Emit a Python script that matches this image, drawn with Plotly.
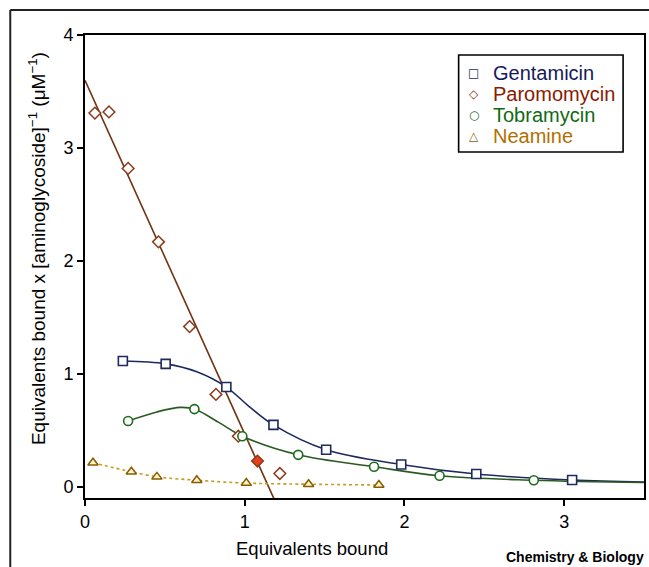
import numpy as np
import plotly.graph_objects as go

# ---- data ----
gent_x = [0.237, 0.505, 0.885, 1.18, 1.51, 1.98, 2.45, 3.05]
gent_y = [1.115, 1.09, 0.885, 0.55, 0.33, 0.20, 0.115, 0.062]
gent_curve_x = [0.237, 0.505, 0.70, 0.885, 1.03, 1.18, 1.51, 1.98, 2.45, 3.05, 3.5]
gent_curve_y = [1.115, 1.09, 1.02, 0.885, 0.71, 0.55, 0.33, 0.20, 0.115, 0.062, 0.045]

paro_x = [0.062, 0.15, 0.27, 0.46, 0.655, 0.82, 0.96, 1.08, 1.22]
paro_y = [3.31, 3.32, 2.82, 2.17, 1.42, 0.82, 0.45, 0.23, 0.12]
paro_fit_intercept = 3.60
paro_fit_slope = -3.13
paro_fit_xrange = [0.0, 1.25]

tobra_x = [0.27, 0.685, 0.985, 1.335, 1.81, 2.22, 2.81]
tobra_y = [0.585, 0.69, 0.45, 0.285, 0.18, 0.10, 0.06]
tobra_curve_x = [0.27, 0.45, 0.60, 0.685, 0.84, 0.985, 1.335, 1.81, 2.22, 2.81, 3.5]
tobra_curve_y = [0.585, 0.665, 0.705, 0.69, 0.57, 0.45, 0.285, 0.18, 0.10, 0.06, 0.04]

neam_x = [0.05, 0.29, 0.45, 0.70, 1.01, 1.40, 1.84]
neam_y = [0.215, 0.135, 0.09, 0.06, 0.035, 0.025, 0.018]

series_names = ["Gentamicin", "Paromomycin", "Tobramycin", "Neamine"]

x_ticks = [0, 1, 2, 3]
y_ticks = [0, 1, 2, 3, 4]

FONT = "Liberation Sans, Arial, sans-serif"

EDGE = {"Gentamicin": "#1f2a5c", "Paromomycin": "#8b3a1a",
        "Tobramycin": "#1e6b1e", "Neamine": "#8a5a00"}
TEXTC = {"Gentamicin": "#151b5a", "Paromomycin": "#8a1a00",
         "Tobramycin": "#0f6a12", "Neamine": "#b07000"}
GLYPH = {"Gentamicin": "\u25a1", "Paromomycin": "\u25c7",
         "Tobramycin": "\u25cb", "Neamine": "\u25b3"}

fig = go.Figure()

# fitted / smoothed lines
fx = np.linspace(paro_fit_xrange[0], paro_fit_xrange[1], 50)
fig.add_trace(go.Scatter(x=fx, y=paro_fit_intercept + paro_fit_slope * fx, mode="lines",
                         line=dict(color="#6e3414", width=1.6), showlegend=False, hoverinfo="skip"))
fig.add_trace(go.Scatter(x=gent_curve_x, y=gent_curve_y, mode="lines",
                         line=dict(color="#1f2a5c", width=1.6, shape="spline", smoothing=1.0),
                         showlegend=False, hoverinfo="skip"))
fig.add_trace(go.Scatter(x=tobra_curve_x, y=tobra_curve_y, mode="lines",
                         line=dict(color="#2a5a22", width=1.6, shape="spline", smoothing=1.0),
                         showlegend=False, hoverinfo="skip"))
fig.add_trace(go.Scatter(x=neam_x, y=neam_y, mode="lines",
                         line=dict(color="#c89a20", width=1.6, dash="dot", shape="spline", smoothing=0.8),
                         showlegend=False, hoverinfo="skip"))

# markers
fig.add_trace(go.Scatter(x=gent_x, y=gent_y, mode="markers", name="Gentamicin", showlegend=False,
                         marker=dict(symbol="square", size=9, color="white",
                                     line=dict(color=EDGE["Gentamicin"], width=1.6))))
paro_fill = ["white"] * len(paro_x)
paro_fill[7] = "#e8401a"
fig.add_trace(go.Scatter(x=paro_x, y=paro_y, mode="markers", name="Paromomycin", showlegend=False,
                         marker=dict(symbol="diamond", size=9, color=paro_fill,
                                     line=dict(color=EDGE["Paromomycin"], width=1.5))))
fig.add_trace(go.Scatter(x=tobra_x, y=tobra_y, mode="markers", name="Tobramycin", showlegend=False,
                         marker=dict(symbol="circle", size=9, color="white",
                                     line=dict(color=EDGE["Tobramycin"], width=1.6))))
fig.add_trace(go.Scatter(x=neam_x, y=neam_y, mode="markers", name="Neamine", showlegend=False,
                         marker=dict(symbol="triangle-up", size=9, color="#fff6c8",
                                     line=dict(color=EDGE["Neamine"], width=1.5))))

axis_common = dict(showgrid=False, zeroline=False, showline=True, linecolor="black",
                   linewidth=2, mirror=True, ticks="outside", ticklen=6, tickwidth=2,
                   tickcolor="black", tickfont=dict(family=FONT, size=18, color="black"))

fig.update_layout(
    width=649, height=567,
    margin=dict(l=85, r=3, t=35, b=69),
    paper_bgcolor="white", plot_bgcolor="white",
    font=dict(family=FONT, color="black"),
    xaxis=dict(range=[0, 3.5], tickvals=x_ticks, **axis_common),
    yaxis=dict(range=[-0.097, 4.001], tickvals=y_ticks, **axis_common),
    showlegend=False,
)

# manual legend (box, key glyphs, coloured names)
fig.add_shape(type="rect", xref="paper", yref="paper", x0=0.6684, x1=0.9626, y0=0.7473, y1=0.9568,
              line=dict(color="black", width=1.6), fillcolor="white", layer="above")
legend_rows_y = [0.9179, 0.8726, 0.8272, 0.7819]
for name, yy in zip(series_names, legend_rows_y):
    fig.add_annotation(text="<b>" + GLYPH[name] + "</b>", xref="paper", yref="paper", x=0.6952, y=yy,
                       xanchor="center", yanchor="middle", showarrow=False,
                       font=dict(family="DejaVu Sans", size=12, color=EDGE[name]))
    fig.add_annotation(text=name, xref="paper", yref="paper", x=0.7255, y=yy,
                       xanchor="left", yanchor="middle", showarrow=False,
                       font=dict(family=FONT, size=20, color=TEXTC[name]))

# axis titles and credit
fig.add_annotation(text="Equivalents bound", xref="paper", yref="paper",
                   x=0.406, y=-0.108, xanchor="center", yanchor="middle",
                   showarrow=False, font=dict(family=FONT, size=18.5, color="black"))
fig.add_annotation(text="Equivalents bound x [aminoglycoside]<sup>\u22121</sup> (\u03bcM<sup>\u22121</sup>)",
                   xref="paper", yref="paper", x=-0.0856, y=0.538, textangle=-90,
                   xanchor="center", yanchor="middle", showarrow=False,
                   font=dict(family=FONT, size=19, color="black"))
fig.add_annotation(text="<b>Chemistry &amp; Biology</b>", xref="paper", yref="paper",
                   x=1.003, y=-0.127, xanchor="right", yanchor="middle", showarrow=False,
                   font=dict(family=FONT, size=14, color="black"))

# outer figure frame (top and left)
fig.add_shape(type="line", xref="paper", yref="paper", x0=-0.1337, x1=1.01, y0=1.054, y1=1.054,
              line=dict(color="#222222", width=2))
fig.add_shape(type="line", xref="paper", yref="paper", x0=-0.1337, x1=-0.1337, y0=1.054, y1=-0.16,
              line=dict(color="#222222", width=2))

fig.write_html("out.html")
